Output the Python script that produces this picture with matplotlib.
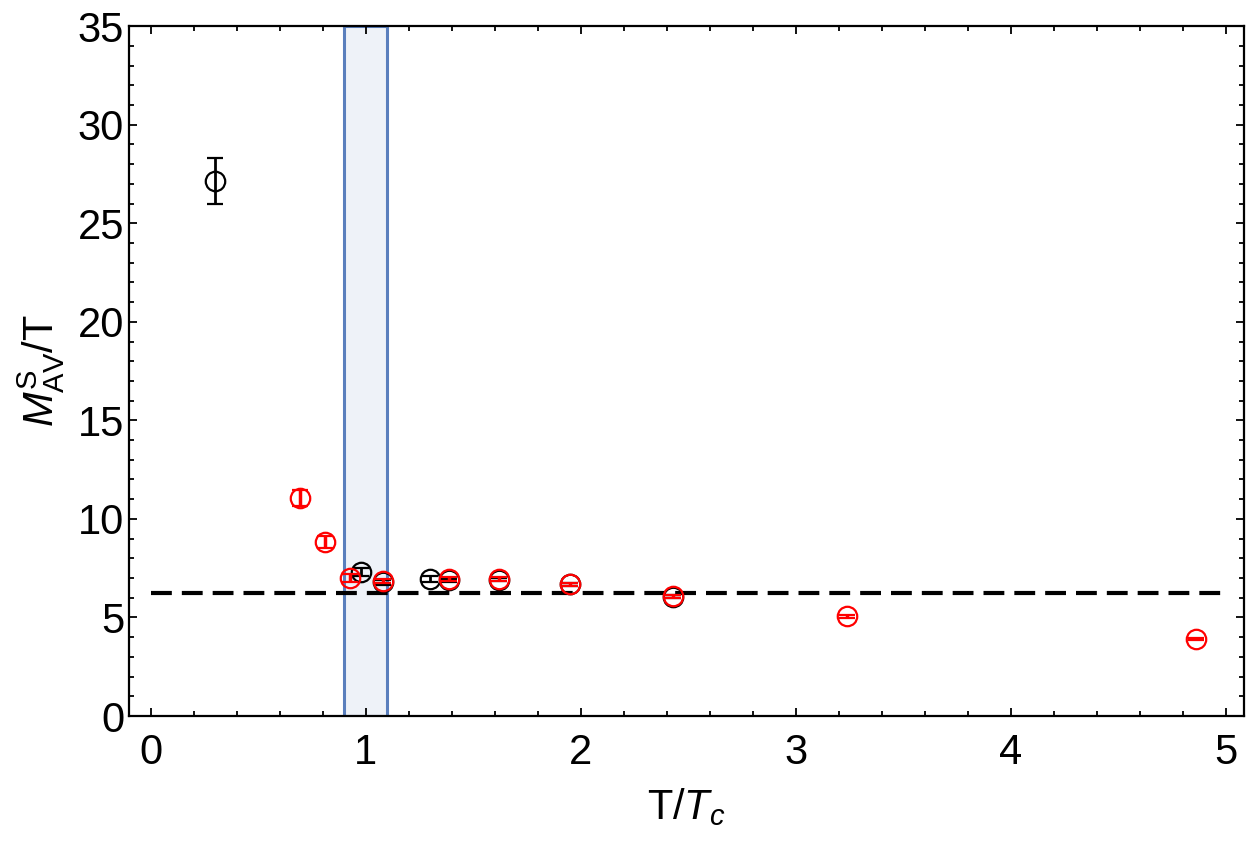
import matplotlib
matplotlib.use('Agg')
import matplotlib.pyplot as plt
from matplotlib.ticker import MultipleLocator

plt.rcParams['font.family'] = ['Liberation Sans', 'DejaVu Sans']
plt.rcParams['mathtext.fontset'] = 'custom'
plt.rcParams['mathtext.rm'] = 'Liberation Sans'
plt.rcParams['mathtext.it'] = 'Liberation Sans:italic'

# Dados
x_preto = [0.30, 0.977, 1.08, 1.30, 1.39, 1.62, 1.95, 2.43]
y_preto = [27.15, 7.30, 6.78, 6.95, 6.88, 6.92, 6.68, 6.05]
err_preto = [1.15, 0.20, 0.12, 0.15, 0.08, 0.08, 0.08, 0.08]

x_verm = [0.693, 0.81, 0.926, 1.08, 1.39, 1.62, 1.95, 2.43, 3.24, 4.86]
y_verm = [11.05, 8.82, 7.00, 6.85, 6.93, 6.93, 6.68, 6.07, 5.05, 3.90]
err_verm = [0.42, 0.30, 0.22, 0.10, 0.10, 0.10, 0.08, 0.06, 0.06, 0.06]

faixa = (0.9, 1.1)
y_ref = 6.25

fig = plt.figure(figsize=(12.5, 8.42), dpi=100)
ax = fig.add_axes([0.1032, 0.1496, 0.892, 0.8194])

ax.axvspan(faixa[0], faixa[1], facecolor='#eef2f8', edgecolor='#5a7fbd', linewidth=2.2, zorder=1)
ax.plot([0, 5], [y_ref, y_ref], color='black', lw=3, linestyle=(0, (5, 2.4)), zorder=2)

ax.errorbar(x_preto, y_preto, yerr=err_preto, fmt='o', mfc='none', mec='black', ms=14,
            mew=1.6, ecolor='black', elinewidth=2, capsize=6, capthick=2, zorder=3)
ax.errorbar(x_verm, y_verm, yerr=err_verm, fmt='o', mfc='none', mec='red', ms=14,
            mew=1.6, ecolor='red', elinewidth=2.5, capsize=6, capthick=3, zorder=4)

ax.set_xlim(-0.1, 5.085)
ax.set_ylim(0, 35)
ax.xaxis.set_major_locator(MultipleLocator(1))
ax.xaxis.set_minor_locator(MultipleLocator(0.2))
ax.yaxis.set_major_locator(MultipleLocator(5))
ax.yaxis.set_minor_locator(MultipleLocator(1))
ax.tick_params(which='both', direction='in', top=True, right=True, width=1.3, labelsize=30)
ax.tick_params(which='major', length=6)
ax.tick_params(which='minor', length=3.5)
ax.tick_params(axis='x', pad=12)
for s in ax.spines.values():
    s.set_linewidth(1.6)

ax.set_xlabel('T/$\\mathit{T_c}$', fontsize=30, labelpad=10)
ax.set_ylabel('$\\mathit{M}^{\\mathrm{S}}_{\\mathrm{AV}}$/T', fontsize=30, labelpad=8)

fig.savefig('out.png', dpi=100)
